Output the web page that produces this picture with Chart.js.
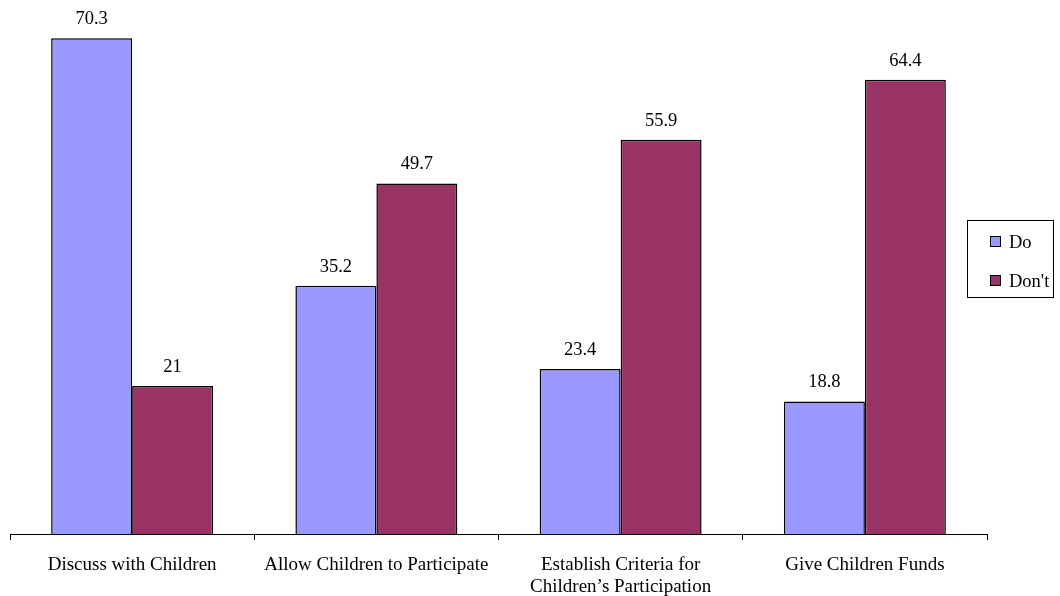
<!DOCTYPE html>
<html>
<head>
<meta charset="utf-8">
<script src="https://cdn.jsdelivr.net/npm/chart.js@4"></script>
<style>
  html, body { margin: 0; padding: 0; background: #fff; }
  #wrap { width: 1060px; height: 596px; }
</style>
</head>
<body>
<div id="wrap"><canvas id="chart" width="1060" height="596"></canvas></div>
<script>
// data
const categories = [
    "Discuss with Children",
    "Allow Children to Participate",
    ["Establish Criteria for", "Children\u2019s Participation"],
    "Give Children Funds"
];
const doValues = [70.3, 35.2, 23.4, 18.8];
const dontValues = [21, 49.7, 55.9, 64.4];
const seriesNames = ["Do", "Don't"];
const seriesColors = ["#9999FF", "#993366"];

const serif = '"Liberation Serif", "Times New Roman", serif';

// value labels above each bar
const valueLabels = {
    id: 'valueLabels',
    afterDatasetsDraw(chart) {
        const ctx = chart.ctx;
        ctx.save();
        ctx.font = '18.5px ' + serif;
        ctx.fillStyle = '#000';
        ctx.textAlign = 'center';
        ctx.textBaseline = 'alphabetic';
        chart.data.datasets.forEach((ds, i) => {
            chart.getDatasetMeta(i).data.forEach((bar, j) => {
                ctx.fillText(String(ds.data[j]), bar.x, bar.y - 14);
            });
        });
        ctx.restore();
    }
};

// boxed legend on the right
const boxLegend = {
    id: 'boxLegend',
    afterDraw(chart) {
        const ctx = chart.ctx;
        ctx.save();
        ctx.strokeStyle = '#000';
        ctx.lineWidth = 1;
        ctx.strokeRect(967.5, 220.5, 86, 77);
        ctx.font = '18.5px ' + serif;
        ctx.textBaseline = 'middle';
        ctx.textAlign = 'left';
        chart.data.datasets.forEach((ds, i) => {
            const cy = 242 + i * 39;
            ctx.fillStyle = ds.backgroundColor;
            ctx.fillRect(990.5, cy - 5.5, 10, 10);
            ctx.strokeRect(990.5, cy - 5.5, 10, 10);
            ctx.fillStyle = '#000';
            ctx.fillText(ds.label, 1009, cy + 1);
        });
        ctx.restore();
    }
};

const ctx = document.getElementById('chart').getContext('2d');
new Chart(ctx, {
    type: 'bar',
    data: {
        labels: categories,
        datasets: [
            { label: seriesNames[0], data: doValues, backgroundColor: seriesColors[0] },
            { label: seriesNames[1], data: dontValues, backgroundColor: seriesColors[1] }
        ].map(d => Object.assign(d, {
            borderColor: '#000',
            borderWidth: 1.5,
            borderSkipped: 'bottom',
            categoryPercentage: 0.663,
            barPercentage: 1
        }))
    },
    options: {
        responsive: false,
        animation: false,
        events: [],
        layout: { padding: { top: 5, left: 10, right: 73, bottom: 0 } },
        plugins: { legend: { display: false }, tooltip: { enabled: false } },
        scales: {
            y: { display: false, min: 0, max: 75 },
            x: {
                offset: true,
                grid: { offset: true, drawOnChartArea: false, color: '#000', tickLength: 6, tickColor: '#000' },
                border: { color: '#000', width: 1 },
                ticks: {
                    color: '#000',
                    font: { family: serif, size: 19, lineHeight: 1.15 },
                    padding: 14,
                    maxRotation: 0,
                    autoSkip: false
                },
                afterFit(scale) { scale.height = 62; }
            }
        }
    },
    plugins: [valueLabels, boxLegend]
});
</script>
</body>
</html>
